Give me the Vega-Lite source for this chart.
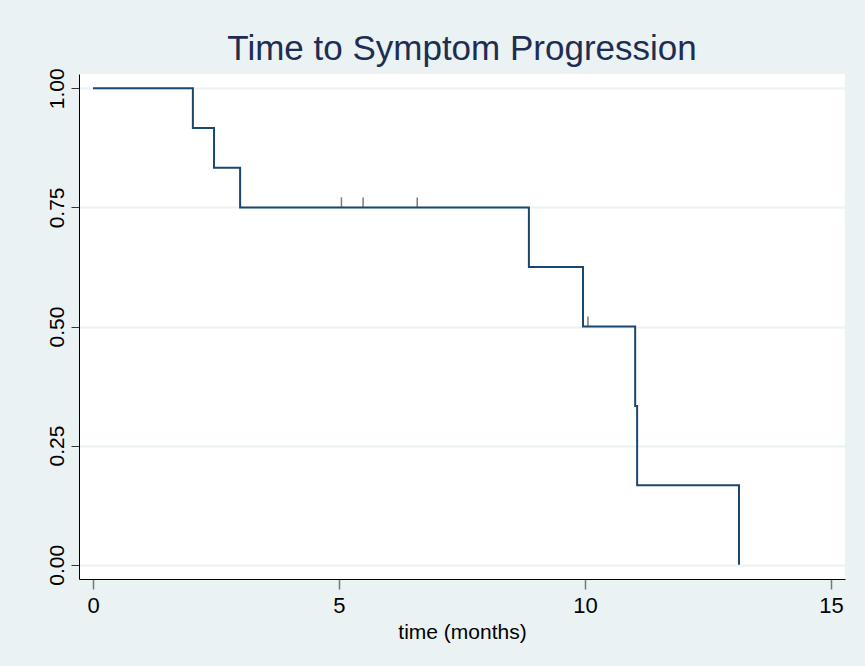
{
  "$schema": "https://vega.github.io/schema/vega-lite/v6.json",
  "width": 766,
  "height": 505,
  "autosize": {"type": "none"},
  "padding": {"left": 79, "top": 74, "right": 20, "bottom": 87},
  "background": "#eaf2f3",
  "title": {
    "text": "Time to Symptom Progression",
    "fontSize": 35,
    "fontWeight": "normal",
    "font": "Liberation Sans",
    "color": "#1e2d52",
    "anchor": "middle",
    "frame": "group",
    "offset": 1
  },
  "config": {
    "font": "Liberation Sans",
    "view": {"fill": "white", "stroke": null}
  },
  "datasets": {
    "km": [
      {"time": 0, "survival": 1.0},
      {"time": 2.03, "survival": 0.9167},
      {"time": 2.46, "survival": 0.8333},
      {"time": 2.99, "survival": 0.75},
      {"time": 8.86, "survival": 0.625},
      {"time": 9.96, "survival": 0.5},
      {"time": 11.02, "survival": 0.3333},
      {"time": 11.06, "survival": 0.1667},
      {"time": 13.13, "survival": 0.0}
    ],
    "censored": [
      {"time": 5.05, "survival": 0.75},
      {"time": 5.49, "survival": 0.75},
      {"time": 6.59, "survival": 0.75},
      {"time": 10.06, "survival": 0.5}
    ]
  },
  "layer": [
    {
      "data": {"name": "km"},
      "mark": {"type": "line", "interpolate": "step-after", "color": "#1a476f", "strokeWidth": 2, "clip": true},
      "encoding": {
        "x": {
          "field": "time",
          "type": "quantitative",
          "scale": {"domain": [-0.2846, 15.285], "nice": false, "zero": false},
          "axis": {
            "values": [0, 5, 10, 15],
            "title": "time (months)",
            "titleFontSize": 21,
            "titleFontWeight": "normal",
            "titleColor": "black",
            "titlePadding": 5,
            "labelFontSize": 22,
            "labelColor": "black",
            "labelPadding": 6,
            "tickSize": 10,
            "tickColor": "#777777",
            "tickWidth": 1.5,
            "domainColor": "black",
            "domainWidth": 1,
            "grid": false
          }
        },
        "y": {
          "field": "survival",
          "type": "quantitative",
          "scale": {"domain": [-0.03, 1.03], "nice": false, "zero": false},
          "axis": {
            "values": [0, 0.25, 0.5, 0.75, 1],
            "format": ".2f",
            "title": null,
            "labelFontSize": 21,
            "labelColor": "black",
            "labelAngle": 270,
            "labelAlign": "center",
            "labelBaseline": "alphabetic",
            "labelPadding": 8,
            "tickSize": 8,
            "tickColor": "#333333",
            "tickWidth": 1,
            "domainColor": "black",
            "domainWidth": 1,
            "grid": true,
            "gridColor": "#eaf2f3",
            "gridWidth": 2
          }
        }
      }
    },
    {
      "data": {"name": "censored"},
      "mark": {"type": "tick", "orient": "vertical", "size": 10, "thickness": 1.5, "color": "#444444", "yOffset": -5},
      "encoding": {
        "x": {"field": "time", "type": "quantitative"},
        "y": {"field": "survival", "type": "quantitative"}
      }
    }
  ]
}
